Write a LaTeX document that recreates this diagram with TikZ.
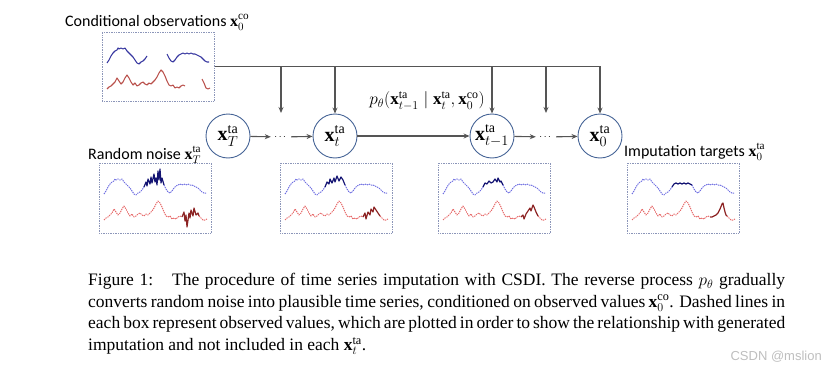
\documentclass[tikz,border=0pt]{standalone}
\usepackage{fontspec}
\usepackage{amsmath}
\setmainfont{Liberation Serif}
\newfontfamily\labelfont{Carlito}
\newfontfamily\wmfont{Liberation Sans}
\usetikzlibrary{arrows.meta}
\definecolor{linegray}{RGB}{85,85,85}
\definecolor{circblue}{RGB}{70,100,150}
\definecolor{boxgray}{RGB}{140,150,185}
\definecolor{obsblue}{RGB}{55,55,160}
\definecolor{obsred}{RGB}{185,80,75}
\definecolor{ltblue}{RGB}{110,110,225}
\definecolor{ltred}{RGB}{230,105,105}
\definecolor{dkblue}{RGB}{20,20,115}
\definecolor{dkred}{RGB}{140,35,35}
\definecolor{wmgray}{RGB}{190,190,190}
% series paths (box-local px coordinates)
\def\BlueA{(5,31) -- (7,28) -- (9,24) -- (11,21) -- (13,19) -- (15,18) -- (16,16) -- (17,17) -- (19,16) -- (21,17) -- (23,16) -- (25,19) -- (27,21) -- (29,23) -- (31,25) -- (33,28) -- (35,31) -- (37,32) -- (39,30) -- (41,29) -- (43,27) -- (45,24)}
\def\BlueB{(65,22) -- (67,26) -- (69,29) -- (71,30) -- (73,28) -- (75,25) -- (77,23) -- (79,22) -- (81,21) -- (83,22) -- (85,21) -- (87,22) -- (89,21) -- (91,22) -- (93,22) -- (95,23) -- (97,24) -- (99,25) -- (101,27) -- (103,29) -- (105,30) -- (107,30)}
\def\RedA{(5,57) -- (7,55) -- (9,54) -- (11,52) -- (13,50) -- (15,46) -- (17,49) -- (19,52) -- (21,50) -- (23,46) -- (25,43) -- (27,46) -- (29,50) -- (31,53) -- (33,51) -- (35,54) -- (37,53) -- (39,51) -- (41,50) -- (43,52) -- (45,53) -- (47,51) -- (49,52) -- (51,50) -- (53,48) -- (55,45) -- (57,41) -- (59,38) -- (61,40) -- (63,44) -- (65,49) -- (67,53) -- (69,54) -- (71,53) -- (73,56) -- (75,55) -- (77,56) -- (79,54) -- (81,53) -- (83,54)}
\def\RedB{(100,47) -- (102,51) -- (104,56) -- (106,57) -- (108,56)}
\def\BlueI{(45,24) -- (47,19) -- (48,23) -- (49,16) -- (51,21) -- (52,14) -- (53,20) -- (55,11) -- (56,19) -- (57,15) -- (58,22) -- (59,8) -- (60,17) -- (61,6) -- (62,20) -- (63,15) -- (65,22)}
\def\BlueII{(45,24) -- (47,19) -- (49,21) -- (50,16) -- (52,20) -- (54,15) -- (55,19) -- (57,13) -- (59,18) -- (61,14) -- (63,17) -- (65,22)}
\def\BlueIII{(45,24) -- (47,20) -- (49,21) -- (51,18) -- (53,20) -- (55,19) -- (57,16) -- (59,19) -- (60,15) -- (62,19) -- (63,18) -- (65,22)}
\def\BlueIV{(45,24) -- (47,21) -- (49,20) -- (51,21) -- (53,20) -- (55,21) -- (57,20) -- (59,21) -- (61,20) -- (63,21) -- (65,22)}
\def\RedI{(83,54) -- (85,49) -- (86,58) -- (87,52) -- (88,64) -- (90,50) -- (91,55) -- (92,47) -- (94,53) -- (95,45) -- (97,52) -- (99,50) -- (100,53)}
\def\RedII{(83,54) -- (85,50) -- (86,56) -- (88,49) -- (90,52) -- (91,46) -- (93,49) -- (94,44) -- (96,47) -- (98,50) -- (100,53)}
\def\RedIII{(83,54) -- (85,52) -- (86,56) -- (88,51) -- (90,48) -- (92,45) -- (93,48) -- (95,42) -- (96,44) -- (98,49) -- (100,53)}
\def\RedIV{(83,54) -- (85,54) -- (87,53) -- (89,52) -- (91,50) -- (93,46) -- (95,41) -- (96,40) -- (97,45) -- (98,49) -- (99,52) -- (100,53)}
\def\RedC{(100,53) -- (102,55) -- (104,57) -- (106,57) -- (108,56)}
\tikzset{
  lbl/.style={font=\labelfont\fontsize{16}{19}\selectfont, inner sep=0pt},
  statenode/.style={circle, draw=circblue, line width=0.9pt, minimum size=44pt, inner sep=0pt, font=\fontsize{20}{22}\selectfont},
  dotsnode/.style={inner sep=0pt, minimum width=20pt, minimum height=10pt, font=\fontsize{10}{12}\selectfont},
  arr/.style={-{Stealth[length=6pt,width=5pt]}, draw=linegray, line width=1.1pt},
  serbox/.style={draw=boxgray, densely dotted, line width=0.7pt, minimum width=112pt, minimum height=70pt, inner sep=0pt, anchor=north west},
  obsline/.style={line width=1.1pt, line join=round},
  dashline/.style={line width=1pt, dash pattern=on 1.3pt off 0.9pt, line join=round},
  impline/.style={line width=1.2pt, line join=round},
}
\begin{document}
\begin{tikzpicture}[x=1pt,y=-1pt]
\useasboundingbox (0,0) rectangle (838,372);
% top conditional box
\node[serbox, minimum height=69pt] (cobox) at (102,32) {};
\begin{scope}[shift={(102,32)}]
  \draw[obsline, obsblue] \BlueA;
  \draw[obsline, obsblue] \BlueB;
  \draw[obsline, obsred] \RedA;
  \draw[obsline, obsred] \RedB;
\end{scope}
\node[lbl, anchor=base west] (colbl) at (65,26) {Conditional observations $\mathbf{x}_0^{\mathrm{co}}$};
% states
\node[statenode] (xT) at (228,136) {$\mathbf{x}_T^{\mathrm{ta}}$};
\node[statenode] (xt) at (335,136) {$\mathbf{x}_t^{\mathrm{ta}}$};
\node[statenode] (xtm) at (492,136) {$\mathbf{x}_{t-1}^{\mathrm{ta}}$};
\node[statenode] (x0) at (600,136) {$\mathbf{x}_0^{\mathrm{ta}}$};
\node[dotsnode] (d1) at (281,137) {$\cdots$};
\node[dotsnode] (d2) at (546,137) {$\cdots$};
\draw[arr] (xT) -- (d1);
\draw[arr] (d1) -- (xt);
\draw[arr] (xt) -- (xtm);
\draw[arr] (xtm) -- (d2);
\draw[arr] (d2) -- (x0);
% conditioning lines
\coordinate (c1) at (281,113);
\coordinate (c2) at (546,113);
\draw[arr] (cobox.east) -- (x0 |- cobox.east) -- (x0.north);
\draw[arr] (c1 |- cobox.east) -- (c1);
\draw[arr] (xt |- cobox.east) -- (xt.north);
\draw[arr] (xtm |- cobox.east) -- (xtm.north);
\draw[arr] (c2 |- cobox.east) -- (c2);
\node[inner sep=0pt, font=\fontsize{17}{20}\selectfont] (plbl) at (427,101) {$p_\theta(\mathbf{x}_{t-1}^{\mathrm{ta}}\mid\mathbf{x}_t^{\mathrm{ta}},\mathbf{x}_0^{\mathrm{co}})$};
% labels
\node[lbl, anchor=base west] (rnlbl) at (88,159) {Random noise $\mathbf{x}_T^{\mathrm{ta}}$};
\node[lbl, anchor=base west] (itlbl) at (624,156) {Imputation targets $\mathbf{x}_0^{\mathrm{ta}}$};
% bottom boxes
\node[serbox] (b1) at (99,163) {};
\node[serbox] (b2) at (280,163) {};
\node[serbox] (b3) at (438,163) {};
\node[serbox] (b4) at (627,163) {};
\begin{scope}[shift={(99,163)}]
  \draw[dashline, ltblue] \BlueA; \draw[dashline, ltblue] \BlueB;
  \draw[dashline, ltred] \RedA; \draw[dashline, ltred] \RedC;
  \draw[impline, dkblue] \BlueI; \draw[impline, dkred] \RedI;
\end{scope}
\begin{scope}[shift={(280,163)}]
  \draw[dashline, ltblue] \BlueA; \draw[dashline, ltblue] \BlueB;
  \draw[dashline, ltred] \RedA; \draw[dashline, ltred] \RedC;
  \draw[impline, dkblue] \BlueII; \draw[impline, dkred] \RedII;
\end{scope}
\begin{scope}[shift={(438,163)}]
  \draw[dashline, ltblue] \BlueA; \draw[dashline, ltblue] \BlueB;
  \draw[dashline, ltred] \RedA; \draw[dashline, ltred] \RedC;
  \draw[impline, dkblue] \BlueIII; \draw[impline, dkred] \RedIII;
\end{scope}
\begin{scope}[shift={(627,163)}]
  \draw[dashline, ltblue] \BlueA; \draw[dashline, ltblue] \BlueB;
  \draw[dashline, ltred] \RedA; \draw[dashline, ltred] \RedC;
  \draw[impline, dkblue] \BlueIV; \draw[impline, dkred] \RedIV;
\end{scope}
% caption
\node[anchor=north west, inner sep=0pt, text width=697pt, align=justify, font=\fontsize{17.5}{21.7}\selectfont] (cap) at (88,273) {Figure 1:\hspace{0.6em} The procedure of time series imputation with CSDI. The reverse process $p_\theta$ gradually\linebreak converts random noise into plausible time series, conditioned on observed values $\mathbf{x}_0^{\mathrm{co}}$. Dashed lines in\linebreak each box represent observed values, which are plotted in order to show the relationship with generated\linebreak imputation and not included in each $\mathbf{x}_t^{\mathrm{ta}}$.};
\node[anchor=east, inner sep=0pt, text=wmgray, font=\wmfont\fontsize{13}{15}\selectfont] (wm) at (822,357) {CSDN @mslion};
\end{tikzpicture}
\end{document}
